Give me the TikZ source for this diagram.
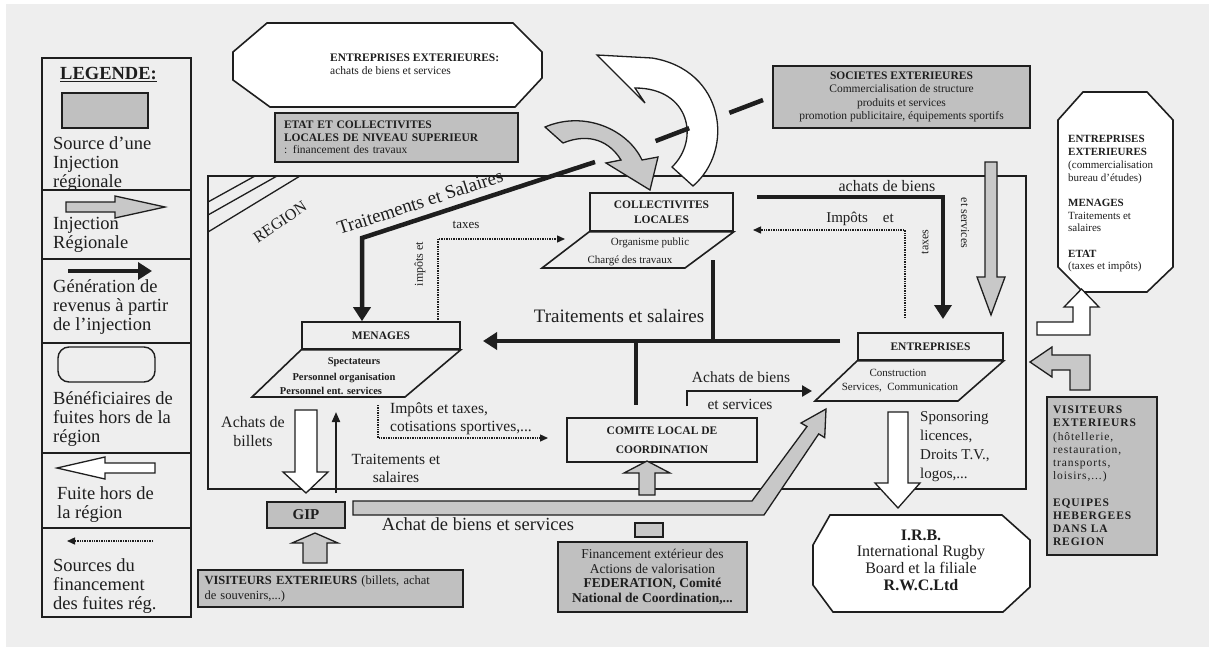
\documentclass[tikz,border=0pt]{standalone}
\usepackage{fontspec}
\setmainfont{Liberation Serif}
\newfontfamily\spaced[LetterSpace=8]{Liberation Serif}
\usetikzlibrary{arrows.meta}
\newcommand\myfs[2]{\fontsize{#1}{#2}\selectfont}
\definecolor{bg}{RGB}{238,238,238}
\definecolor{boxgray}{RGB}{192,192,192}
\definecolor{arrgray}{RGB}{200,200,200}
\definecolor{ink}{RGB}{30,30,30}
\begin{document}
\begin{tikzpicture}[x=1pt,y=-1pt,
  every node/.style={inner sep=0pt, text=ink},
  line join=miter,
  obox/.style={draw=ink, line width=1.6pt},
  gbox/.style={draw=ink, line width=1.6pt, fill=boxgray},
  blockw/.style={draw=ink, line width=1.3pt, fill=white},
  blockg/.style={draw=ink, line width=1.3pt, fill=arrgray},
  thickflow/.style={draw=ink, line width=4.5pt, -{Triangle[length=14pt,width=17pt]}},
  vbar/.style={draw=ink, line width=3.5pt},
  midflow/.style={draw=ink, line width=2.6pt, -{Triangle[length=10pt,width=11pt]}},
  thinflow/.style={draw=ink, line width=2pt, -{Triangle[length=10pt,width=8pt]}},
  fundflow/.style={draw=ink, line width=1.4pt, densely dotted, -{Triangle[length=8pt,width=7pt]}},
  hatchline/.style={draw=ink, line width=1.3pt},
  legtxt/.style={font=\myfs{18.5}{19}, align=left, anchor=west},
  boxlbl/.style={font=\myfs{11.5}{15}\bfseries, align=center},
  smtxt/.style={font=\myfs{11}{12}},
  smbold/.style={font=\myfs{10.5}{12}\bfseries},
  midtxt/.style={font=\myfs{15.5}{18}},
  bigtxt/.style={font=\myfs{19}{20}},
  rottxt/.style={font=\myfs{12}{12}}
]
\useasboundingbox (0,0) rectangle (1215,651);
\fill[white] (0,0) rectangle (1215,651);
\fill[bg] (6,4) rectangle (1209,647);

% ---------------- Legend ----------------
\node[obox, anchor=north west, minimum width=149pt, minimum height=559pt] (legend) at (41,57) {};
\foreach \yy in {190,259,343,453,528} \draw[hatchline] (41,\yy) -- (190,\yy);
\node[font=\myfs{18.5}{19}\bfseries, anchor=west] (legt) at (60,75) {\underline{LEGENDE:}};
\node[gbox, minimum width=86pt, minimum height=35pt] (legsrc) at (105,110.5) {};
\node[legtxt] (leg1) at (53,164) {Source d'une\\Injection\\régionale};
\filldraw[blockg] (66,202) -- (115,202) -- (115,196) -- (165,207) -- (115,218) -- (115,212) -- (66,212) -- cycle;
\node[legtxt] (leg2) at (53,235) {Injection\\Régionale};
\coordinate (lgA) at (68,271); \coordinate (lgB) at (152,271);
\draw[thickflow] (lgA) -- (lgB);
\node[legtxt] (leg3) at (53,307) {Génération de\\revenus à partir\\de l'injection};
\node[draw=ink, line width=1.4pt, rounded corners=11pt, minimum width=97pt, minimum height=35pt] (legben) at (106.5,364.5) {};
\node[legtxt] (leg4) at (53,419) {Bénéficiaires de\\fuites hors de la\\région};
\filldraw[blockw] (155,463) -- (105,463) -- (105,457) -- (57,468) -- (105,479) -- (105,473) -- (155,473) -- cycle;
\node[legtxt] (leg5) at (57,505) {Fuite hors de\\la région};
\coordinate (lfA) at (153,541); \coordinate (lfB) at (67,541);
\draw[fundflow] (lfA) -- (lfB);
\node[legtxt] (leg6) at (53,586) {Sources du\\financement\\des fuites rég.};

% ---------------- Region ----------------
\node[obox, anchor=north west, minimum width=818pt, minimum height=313pt] (region) at (207,175) {};
\draw[hatchline] (208,202) -- (255,176);
\draw[hatchline] (208,215) -- (277,176);
\draw[hatchline] (208,232) -- (300,176);
\node[font=\myfs{16}{16}, rotate=34] (regl) at (280,222) {REGION};

% ---------------- Top outside ----------------
\draw[obox, fill=white] (233,52) -- (267,23) -- (513,23) -- (542,52) -- (542,78) -- (515,107) -- (270,107) -- (233,80) -- cycle;
\node[font=\myfs{11.5}{13}, align=left, anchor=west] (entext) at (330,64) {\textbf{ENTREPRISES EXTERIEURES:}\\achats de biens et services};

\node[gbox, minimum width=243pt, minimum height=49pt, text width=225pt, align=left, font=\myfs{11.5}{12.5}] (etat) at (396.5,137.5) {\textbf{ETAT ET COLLECTIVITES}\\\textbf{LOCALES DE NIVEAU SUPERIEUR}\\: financement des travaux};

\node[gbox, minimum width=257pt, minimum height=62pt, font=\myfs{11.5}{13.2}, align=center] (soc) at (901.5,97) {\textbf{SOCIETES EXTERIEURES}\\Commercialisation de structure\\produits et services\\promotion publicitaire, équipements sportifs};

% curved arrows
\filldraw[blockw] (597,55) -- (652,58) .. controls (725,70) and (735,150) .. (693,186) -- (672,167) .. controls (700,140) and (690,88) .. (635,88) -- (645,103) -- cycle;
\filldraw[blockg] (545,127) .. controls (585,110) and (628,130) .. (642,160) -- (658,157) -- (650,190) -- (606,163) -- (621,160) .. controls (610,142) and (590,132) .. (563,143) -- cycle;

% dashed link to SOCIETES
\coordinate (dsA) at (763,100); \coordinate (dsB) at (653,142);
\draw[draw=ink, line width=4.5pt, dash pattern=on 36pt off 43pt] (dsA) -- (dsB);

% right octagon
\draw[obox, fill=white] (1058,120) -- (1083,92) -- (1147,92) -- (1173,120) -- (1173,267) -- (1147,292) -- (1083,292) -- (1058,267) -- cycle;
\node[font=\myfs{11}{12.7}, align=left, anchor=west] (octr) at (1068,204) {\textbf{ENTREPRISES}\\\textbf{EXTERIEURES}\\(commercialisation\\bureau d'études)\\[12.7pt]\textbf{MENAGES}\\Traitements et\\salaires\\[12.7pt]\textbf{ETAT}\\(taxes et impôts)};

% ---------------- Inner boxes ----------------
\node[obox, minimum width=143pt, minimum height=38pt, boxlbl] (coll) at (661.5,212) {COLLECTIVITES\\LOCALES};
\draw[obox] (coll.south west) -- (coll.south east) -- (685,268) -- (542,268) -- cycle;
\node[smtxt] (coll1) at (650,243) {Organisme public};
\node[smtxt] (coll2) at (630,261) {Chargé des travaux};

\node[obox, minimum width=158pt, minimum height=27pt, boxlbl] (men) at (381,335.5) {MENAGES};
\draw[obox] (men.south west) -- (men.south east) -- (405,397) -- (252,397) -- cycle;
\node[smbold] (men1) at (354,362) {Spectateurs};
\node[smbold] (men2) at (344,378) {Personnel organisation};
\node[smbold] (men3) at (331,391) {Personnel ent. services};

\node[obox, minimum width=145pt, minimum height=27pt, boxlbl] (ent) at (930.5,346.5) {ENTREPRISES};
\draw[obox] (ent.south west) -- (ent.south east) -- (958,401) -- (815,401) -- cycle;
\node[smtxt] (ent1) at (898,373) {Construction};
\node[smtxt] (ent2) at (900,388) {Services,\ \ Communication};

\node[obox, minimum width=190pt, minimum height=44pt, font=\myfs{11.5}{19}\bfseries, align=center] (comite) at (662,440) {COMITE LOCAL DE\\COORDINATION};

\node[gbox, minimum width=78pt, minimum height=26pt, font=\myfs{15}{15}\bfseries] (gip) at (306,515) {GIP};

\node[gbox, minimum width=265pt, minimum height=37pt, text width=252pt, align=left, font=\myfs{12.5}{15}] (visb) at (330.5,588.5) {\textbf{VISITEURS EXTERIEURS} (billets, achat\\de souvenirs,...)};

\node[gbox, minimum width=189pt, minimum height=70pt, align=center, font=\myfs{13.5}{14.5}] (fin) at (652.5,577) {Financement extérieur des\\Actions de valorisation\\\textbf{FEDERATION, Comité}\\\textbf{National de Coordination,...}};

\node[gbox, minimum width=110pt, minimum height=158pt, text width=98pt, align=left, font=\spaced\myfs{11.5}{13.2}] (visr) at (1102,476) {\textbf{VISITEURS}\\\textbf{EXTERIEURS}\\(hôtellerie,\\restauration,\\transports,\\loisirs,...)\\[13.2pt]\textbf{EQUIPES}\\\textbf{HEBERGEES}\\\textbf{DANS LA}\\\textbf{REGION}};

\draw[obox, fill=white] (830,515) -- (1002,515) -- (1030,540) -- (1030,587) -- (1003,612) -- (833,612) -- (813,585) -- (813,545) -- cycle;
\node[font=\myfs{16}{16.7}, align=center] (irb) at (921,560) {\textbf{I.R.B.}\\International Rugby\\Board et la filiale\\\textbf{R.W.C.Ltd}};

% ---------------- Flows ----------------
\coordinate (tsA) at (595,162); \coordinate (tsB) at (362,238);
\draw[thickflow] (tsA) -- (tsB) -- (tsB |- men.north);
\node[bigtxt, rotate=18] (tsl) at (420,202) {Traitements et Salaires};

\coordinate (abA) at (757,197); \coordinate (abB) at (943,197); \coordinate (abC) at (943,319);
\draw[thickflow] (abA) -- (abB) -- (abC);
\node[font=\myfs{16}{16}] (abl) at (887,186) {achats de biens};

\coordinate (hsA) at (840,341); \coordinate (hsB) at (483,341);
\draw[thickflow] (hsA) -- (hsB);
\coordinate (cvA) at (713,260); \coordinate (cvB) at (713,341);
\draw[vbar] (cvA) -- (cvB);
\coordinate (mvA) at (636,341); \coordinate (mvB) at (636,405);
\draw[vbar] (mvA) -- (mvB);
\node[bigtxt] (hsl) at (619,316) {Traitements et salaires};

\coordinate (bsA) at (687,406); \coordinate (bsB) at (687,391); \coordinate (bsC) at (812,391);
\draw[midflow] (bsA) -- (bsB) -- (bsC);
\node[midtxt] (bsl1) at (741,377) {Achats de biens};
\node[midtxt] (bsl2) at (740,404) {et services};

% dotted funding flows
\coordinate (txA) at (438,322); \coordinate (txB) at (438,239); \coordinate (txC) at (565,239);
\draw[fundflow] (txA) -- (txB) -- (txC);
\node[font=\myfs{13}{13}] (txl) at (466,225) {taxes};
\node[rottxt, rotate=90] (txl2) at (420,264) {impôts et};

\coordinate (itA) at (905,318); \coordinate (itB) at (905,230); \coordinate (itC) at (753,230);
\draw[fundflow] (itA) -- (itB) -- (itC);
\node[font=\myfs{15}{15}] (itl) at (860,219) {Impôts\quad et};
\node[rottxt, rotate=90] (itl2) at (925,242) {taxes};
\node[rottxt, rotate=-90] (esl) at (965,223) {et services};

\coordinate (coA) at (378,405); \coordinate (coB) at (378,438); \coordinate (coC) at (548,438);
\draw[fundflow] (coA) -- (coB) -- (coC);
\node[midtxt, align=left, anchor=west] (col) at (390,419) {Impôts et taxes,\\cotisations sportives,...};

\coordinate (upA) at (336,493); \coordinate (upB) at (336,412);
\draw[thinflow] (upA) -- (upB);
\node[midtxt, align=center] (upl) at (396,468) {Traitements et\\salaires};
\node[font=\myfs{16}{19}, align=center] (bil) at (253,432) {Achats de\\billets};

% block arrows
\filldraw[blockg] (985,162) -- (997,162) -- (997,277) -- (1005,277) -- (991,315) -- (977,277) -- (985,277) -- cycle;
\filldraw[blockw] (295,410) -- (317,410) -- (317,472) -- (328,472) -- (306,493) -- (283,472) -- (295,472) -- cycle;
\filldraw[blockg] (303,563) -- (303,543) -- (292,543) -- (315,533) -- (338,543) -- (327,543) -- (327,563) -- cycle;
\filldraw[blockg] (639,495) -- (639,473) -- (624,473) -- (647,461) -- (670,473) -- (655,473) -- (655,495) -- cycle;
\filldraw[blockg] (635,523) rectangle (663,537);
\filldraw[blockw] (888,412) -- (908,412) -- (908,483) -- (920,483) -- (898,508) -- (875,483) -- (888,483) -- cycle;
\filldraw[blockg] (353,501) -- (752,501) -- (807,426.5) -- (801,423) -- (826,409) -- (824.7,437.6) -- (818.7,433.9) -- (764,515) -- (353,515) -- cycle;
\node[font=\myfs{18.5}{18.5}] (achl) at (478,524) {Achat de biens et services};
\filldraw[blockw] (1037,322) -- (1073,322) -- (1073,307) -- (1064,307) -- (1081.5,289) -- (1099,307) -- (1090,307) -- (1090,335) -- (1037,335) -- cycle;
\filldraw[blockg] (1070,390) -- (1070,370) -- (1052,370) -- (1052,377) -- (1030,362) -- (1052,347) -- (1052,355) -- (1090,355) -- (1090,390) -- cycle;

\node[font=\myfs{15}{19}, align=left, anchor=west] (spl) at (920,447) {Sponsoring\\licences,\\Droits T.V.,\\logos,...};
\end{tikzpicture}
\end{document}
